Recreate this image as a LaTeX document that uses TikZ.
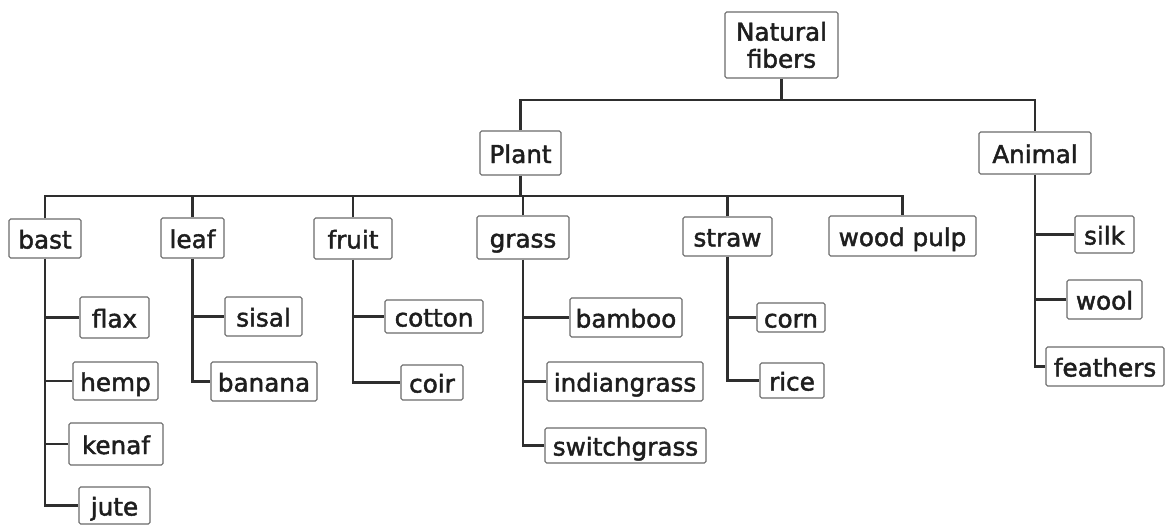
\documentclass[tikz,border=0pt]{standalone}
\usepackage{fontspec}
\setmainfont{DejaVu Sans}
\newfontfamily\boxfont[FakeBold=1.8]{DejaVu Sans}
\definecolor{linec}{HTML}{2E2E2E}
\definecolor{boxc}{HTML}{6A6A6A}
\definecolor{txtc}{HTML}{1E1E1E}
\newcommand{\mybox}[6]{%
  \node[fbox, minimum width={(#4-#2)*0.75pt}, minimum height={(#5-#3)*0.75pt}]
    (#1) at ({(#2+#4)/2},{(#3+#5)/2}) {#6};}
\begin{document}
\begin{tikzpicture}[x=0.75pt,y=-0.75pt,
  fbox/.style={draw=boxc, line width=0.8pt, rounded corners=1.2pt, fill=white,
    inner sep=0pt, text=txtc, font=\boxfont\fontsize{18.5}{20}\selectfont,
    text height=15pt, text depth=0pt},
  conn/.style={draw=linec, line width=1.8pt}]
\useasboundingbox (0,0) rectangle (1166,525);
\fill[white] (0,0) rectangle (1166,525);
\coordinate (nfbar) at (0,100);
\coordinate (pbar) at (0,196);
% boxes
\node[fbox, minimum width={113*0.75pt}, minimum height={66*0.75pt}, align=center,
  text height=, text depth=, font=\boxfont\fontsize{18.5}{20.25}\selectfont]
  (nf) at (781.5,45) {Natural\\fibers};
\mybox{plant}{480}{131}{561}{175}{Plant}
\mybox{animal}{979}{132}{1091}{174}{Animal}
\mybox{bast}{9}{219}{81}{258}{bast}
\mybox{leaf}{161}{218}{224}{258}{leaf}
\mybox{fruit}{314}{218}{392}{259}{fruit}
\mybox{grass}{477}{216}{569}{259}{grass}
\mybox{straw}{683}{217}{772}{256}{straw}
\mybox{pulp}{829}{216}{976}{256}{wood pulp}
\mybox{flax}{80}{297}{149}{338}{flax}
\mybox{hemp}{73}{362}{158}{400}{hemp}
\mybox{kenaf}{69}{423}{163}{465}{kenaf}
\mybox{jute}{79}{487}{150}{524}{jute}
\mybox{sisal}{225}{297}{302}{336}{sisal}
\mybox{banana}{211}{362}{317}{401}{banana}
\mybox{cotton}{385}{300}{483}{333}{cotton}
\mybox{coir}{401}{365}{463}{400}{coir}
\mybox{bamboo}{570}{298}{682}{337}{bamboo}
\mybox{indiangrass}{547}{362}{703}{401}{indiangrass}
\mybox{switchgrass}{545}{428}{706}{463}{switchgrass}
\mybox{corn}{757}{303}{825}{332}{corn}
\mybox{rice}{760}{363}{824}{398}{rice}
\mybox{silk}{1075}{216}{1134}{253}{silk}
\mybox{wool}{1067}{280}{1142}{319}{wool}
\mybox{feathers}{1046}{347}{1164}{386}{feathers}
% level 1
\draw[conn] (nf.south) -- (nf.south |- nfbar);
\draw[conn] (plant.north) -- (plant.north |- nfbar) -- (animal.north |- nfbar) -- (animal.north);
% level 2
\draw[conn] (plant.south) -- (plant.south |- pbar);
\draw[conn] (bast.north) -- (bast.north |- pbar) -- (pulp.north |- pbar) -- (pulp.north);
\foreach \n in {leaf,fruit,grass,straw} \draw[conn] (\n.north) -- (\n.north |- pbar);
% bast
\draw[conn] (bast.south) -- (bast.south |- jute.west) -- (jute.west);
\foreach \n in {flax,hemp,kenaf} \draw[conn] (bast.south |- \n.west) -- (\n.west);
% leaf
\draw[conn] (leaf.south) -- (leaf.south |- banana.west) -- (banana.west);
\draw[conn] (leaf.south |- sisal.west) -- (sisal.west);
% fruit
\draw[conn] (fruit.south) -- (fruit.south |- coir.west) -- (coir.west);
\draw[conn] (fruit.south |- cotton.west) -- (cotton.west);
% grass
\draw[conn] (grass.south) -- (grass.south |- switchgrass.west) -- (switchgrass.west);
\foreach \n in {bamboo,indiangrass} \draw[conn] (grass.south |- \n.west) -- (\n.west);
% straw
\draw[conn] (straw.south) -- (straw.south |- rice.west) -- (rice.west);
\draw[conn] (straw.south |- corn.west) -- (corn.west);
% animal
\draw[conn] (animal.south) -- (animal.south |- feathers.west) -- (feathers.west);
\foreach \n in {silk,wool} \draw[conn] (animal.south |- \n.west) -- (\n.west);
\end{tikzpicture}
\end{document}
